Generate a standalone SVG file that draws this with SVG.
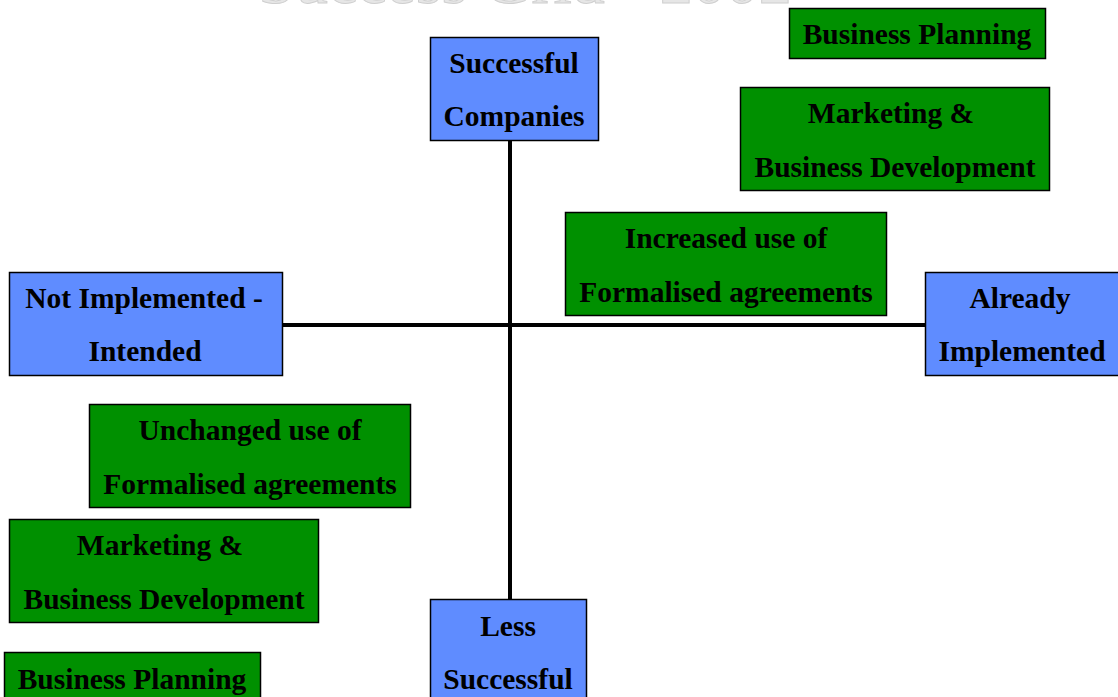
<svg xmlns="http://www.w3.org/2000/svg" width="1118" height="697" viewBox="0 0 1118 697">
<style>
.t{font-family:"Liberation Serif","Times New Roman",serif;font-weight:bold;font-size:29.5px;fill:#000;text-anchor:middle}
.title{font-family:"Liberation Serif","Times New Roman",serif;font-size:66px;fill:#e6e6e6;stroke:#cfcfcf;stroke-width:1;text-anchor:middle}
.blue{fill:#5f8cff;stroke:#000;stroke-width:1.5}
.green{fill:#009000;stroke:#000;stroke-width:1.5}
.ax{stroke:#000;stroke-width:4;fill:none}
</style>
<rect width="1118" height="697" fill="#fff"/>
<text class="title" x="525" y="3">Success Grid - 2002</text>
<g id="connectors">
<line class="ax" x1="510" y1="140" x2="510" y2="599"/>
<line class="ax" x1="282" y1="325" x2="925" y2="325"/>
</g>
<g id="successful">
<rect class="blue" x="430.5" y="37.5" width="168" height="103"/>
<text class="t" x="514" y="73">Successful</text>
<text class="t" x="514" y="126">Companies</text>
</g>
<g id="not-implemented">
<rect class="blue" x="9.5" y="272.5" width="273" height="103"/>
<text class="t" x="144" y="308">Not Implemented -</text>
<text class="t" x="145" y="361">Intended</text>
</g>
<g id="already-implemented">
<rect class="blue" x="925.5" y="272.5" width="194" height="103"/>
<text class="t" x="1020" y="308">Already</text>
<text class="t" x="1022" y="361">Implemented</text>
</g>
<g id="less-successful">
<rect class="blue" x="430.5" y="599.5" width="156" height="110"/>
<text class="t" x="508" y="636">Less</text>
<text class="t" x="508" y="689">Successful</text>
</g>
<g id="bp-top">
<rect class="green" x="789.5" y="8.5" width="256" height="50"/>
<text class="t" x="917" y="44">Business Planning</text>
</g>
<g id="mbd-top">
<rect class="green" x="740.5" y="87.5" width="309" height="103"/>
<text class="t" x="891" y="123">Marketing &amp;</text>
<text class="t" x="895" y="177">Business Development</text>
</g>
<g id="increased">
<rect class="green" x="565.5" y="212.5" width="321" height="103"/>
<text class="t" x="726" y="248">Increased use of</text>
<text class="t" x="726" y="302">Formalised agreements</text>
</g>
<g id="unchanged">
<rect class="green" x="89.5" y="404.5" width="321" height="103"/>
<text class="t" x="250" y="440">Unchanged use of</text>
<text class="t" x="250" y="494">Formalised agreements</text>
</g>
<g id="mbd-bottom">
<rect class="green" x="9.5" y="519.5" width="309" height="103"/>
<text class="t" x="160" y="555">Marketing &amp;</text>
<text class="t" x="164" y="609">Business Development</text>
</g>
<g id="bp-bottom">
<rect class="green" x="4.5" y="652.5" width="256" height="60"/>
<text class="t" x="132" y="689">Business Planning</text>
</g>
</svg>
